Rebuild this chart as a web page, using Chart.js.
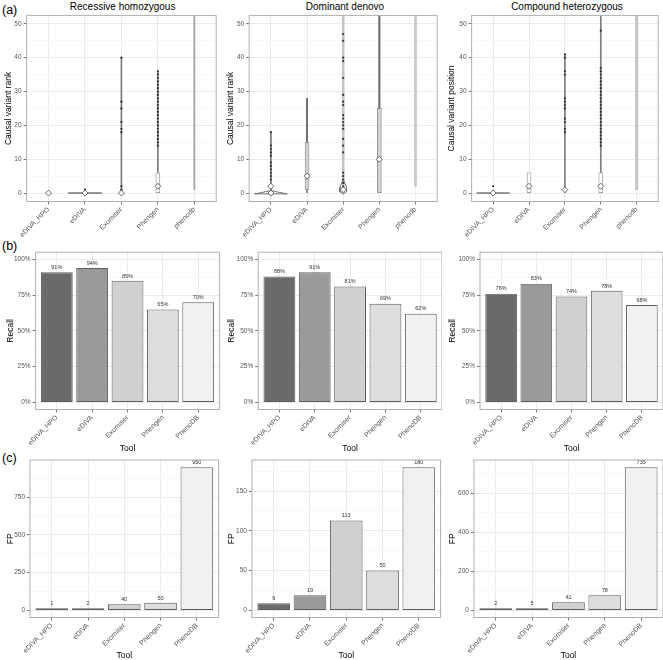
<!DOCTYPE html>
<html>
<head>
<meta charset="utf-8">
<script src="https://cdn.jsdelivr.net/npm/chart.js@4.4.1/dist/chart.umd.min.js"></script>
<style>
  body { margin: 0; background: #fff; font-family: "Liberation Sans", Arial, sans-serif; }
  #fig { position: relative; width: 663px; height: 660px; overflow: hidden; }
  #fig canvas { position: absolute; }
  .tag { position: absolute; font-size: 12.5px; line-height: 13px; color: #000; }
  .ttl { position: absolute; width: 200px; text-align: center; font-size: 10px; line-height: 10px; color: #000; }
</style>
</head>
<body>
<div id="fig">
  <div class="tag" style="left:2px;top:3.5px">(a)</div>
  <div class="tag" style="left:2px;top:240px">(b)</div>
  <div class="tag" style="left:2px;top:452px">(c)</div>
  <div class="ttl" style="left:22.6px;top:2px">Recessive homozygous</div>
  <div class="ttl" style="left:245px;top:2px">Dominant denovo</div>
  <div class="ttl" style="left:467px;top:2px">Compound heterozygous</div>
</div>
<script>
// tools
const rankTools = ['eDIVA_HPO', 'eDIVA', 'Exomiser', 'Phengen', 'phenodb'];
const barTools = ['eDIVA_HPO', 'eDIVA', 'Exomiser', 'Phengen', 'PhenoDB'];

// tick labels
const rankTicks = [0, 10, 20, 30, 40, 50];
const recallTicks = [0, 25, 50, 75, 100];
const fpTicksRH = [0, 250, 500, 750];
const fpTicksDD = [0, 50, 100, 150];
const fpTicksCH = [0, 200, 400, 600];

// (a) causal variant rank, one entry per tool
// Recessive homozygous
const rhStem = [null, null, [0, 40], [0, 36], [1, 60]];
const rhFlat = [null, [[0, 0.46]], null, null, null];
const rhWhisker = [null, null, null, null, null];
const rhBox = [null, null, null, [0, 6], null];
const rhMid = [[0], [0], [0], [2], []];
const rhOut = [[], [1], [40, 27, 25, 21, 19, 18, 2, 1],
  [36, 35, 34, 33, 32, 31, 30, 29, 28, 27, 26, 25, 24, 23, 22, 21, 20, 19, 18, 17, 16, 15, 14], []];

// Dominant denovo
const ddStem = [[0, 18], [0, 28], [0, 60], [0, 60], [2, 60]];
const ddFlat = [[[-0.25, 0.45], [0.7, 0]], null, [[-0.3, 0], [0.3, 0.09], [1.8, 0.09], [4, 0]], null, null];
const ddWhisker = [null, [15, 28], null, [25, 60], null];
const ddBox = [null, [1, 15], null, [0, 25], null];
const ddMid = [[0, 2], [5], [1], [10], []];
const ddOut = [[18, 14, 13, 12, 11, 9, 8, 7, 6, 5, 4], [],
  [47, 45, 40, 39, 34, 29, 27, 26, 23, 22, 21, 20, 19, 16, 14, 12, 6, 5, 4, 3, 2], [], []];

// Compound heterozygous
const chStem = [null, null, [0, 41], [0, 60], [1, 60]];
const chFlat = [[[0, 0.46]], null, null, null, null];
const chWhisker = [null, null, null, null, null];
const chBox = [null, [0, 6], null, [0, 6], null];
const chMid = [[0], [2], [1], [2], []];
const chOut = [[2], [], [41, 40, 36, 35, 28, 27, 26, 25, 22, 21, 19, 18],
  [48, 37, 36, 35, 34, 33, 32, 31, 30, 29, 28, 27, 26, 25, 24, 23, 22, 21, 20, 19, 18, 17, 16, 15, 14], []];

// (b) recall in %
const recallRH = [91, 94, 85, 65, 70];
const recallDD = [88, 91, 81, 69, 62];
const recallCH = [76, 83, 74, 78, 68];

// (c) false positives
const fpRH = [1, 2, 40, 50, 950];
const fpDD = [9, 19, 113, 50, 180];
const fpCH = [2, 5, 41, 78, 735];

// styles
const barFill = ['#6b6b6b', '#9a9a9a', '#d0d0d0', '#dddddd', '#f1f1f1'];
const rhStyle = { stemW: [1, 1, 1, 1, 1.2], stemC: ['#777', '#777', '#7d7d7d', '#7d7d7d', '#a8a8a8'], boxFill: ['#fff', '#fff', '#fff', '#fff', '#fff'] };
const ddStyle = { stemW: [1, 1, 2, 1.5, 2], stemC: ['#7a7a7a', '#7a7a7a', '#c4c4c4', '#c4c4c4', '#c8c8c8'], boxFill: ['#fff', '#d2d2d2', '#fff', '#d2d2d2', '#fff'] };
const chStyle = { stemW: [1, 1, 1, 1, 2.5], stemC: ['#777', '#777', '#7d7d7d', '#7d7d7d', '#c6c6c6'], boxFill: ['#fff', '#fff', '#fff', '#fff', '#fff'] };

// geometry of each row (page px)
const colX = [0, 221, 442];
const rows = {
  a: { top: 0, h: 240, areaTop: 15.4, areaBottom: 201.5, left: [26.6, 28.2, 29.6], right: [218.6, 220.2, 221], titleX: [8.8, 9.8, 9.8] },
  b: { top: 222, h: 231, areaTop: 252.2, areaBottom: 409.5, left: [35.6, 37.2, 38], right: [219.4, 221, 221], titleX: [10.5, 10.5, 10.5] },
  c: { top: 440, h: 220, areaTop: 460, areaBottom: 617.5, left: [30, 30.9, 31.9], right: [218.6, 219.6, 221], titleX: [10.3, 11, 11] }
};
const TITLE_FONT = { size: 8.5, lineHeight: 1 };

Chart.defaults.font.family = '"Liberation Sans", Arial, sans-serif';

// panel border like theme_bw
const frame = {
  id: 'frame',
  afterDraw(chart) {
    const { ctx, chartArea: a } = chart;
    ctx.save();
    ctx.strokeStyle = '#b0b0b0';
    ctx.lineWidth = 1;
    ctx.strokeRect(a.left, a.top, a.right - a.left, a.bottom - a.top);
    ctx.restore();
  }
};

// value text above the bars
const barLabels = {
  id: 'barLabels',
  afterDatasetsDraw(chart, args, opts) {
    if (!opts.text) return;
    const { ctx } = chart;
    const meta = chart.getDatasetMeta(0);
    ctx.save();
    ctx.font = '5.5px "Liberation Sans", Arial, sans-serif';
    ctx.fillStyle = '#333';
    ctx.textAlign = 'center';
    ctx.textBaseline = 'bottom';
    meta.data.forEach((el, i) => ctx.fillText(opts.text[i], el.x, el.y - 2));
    ctx.restore();
  }
};

function makeCanvas(row, col) {
  const c = document.createElement('canvas');
  c.width = 221; c.height = row.h;
  c.style.left = colX[col] + 'px';
  c.style.top = row.top + 'px';
  c.style.width = '221px';
  c.style.height = row.h + 'px';
  document.getElementById('fig').appendChild(c);
  return c;
}

function geometry(row, col) {
  const padLeft = row.titleX[col] - TITLE_FONT.size / 2;
  return {
    padding: { left: padLeft, top: row.areaTop - row.top, right: 221 - row.right[col], bottom: 0 },
    yWidth: row.left[col] - padLeft,
    xHeight: row.top + row.h - row.areaBottom
  };
}

function xScale(labels, height, title) {
  return {
    type: 'linear', min: -0.6, max: 4.6, offset: false,
    afterBuildTicks: s => { s.ticks = labels.map((_, i) => ({ value: i })); },
    afterFit: s => { s.height = height; },
    grid: { offset: false, color: '#e6e6e6', lineWidth: 0.8, tickLength: 3, tickColor: '#555' },
    border: { display: false },
    ticks: { autoSkip: false, maxRotation: 45, minRotation: 45, padding: 1, color: '#555', font: { size: 7 },
      callback: v => labels[v] },
    title: title ? { display: true, text: title, color: '#000', font: TITLE_FONT, padding: 0 } : { display: false }
  };
}

function yScale(ticks, min, max, fmt, title, width) {
  const step = ticks[1] - ticks[0];
  const minor = ticks.map(t => t + step / 2).filter(v => v < max);
  const isMinor = c => c.tick && minor.includes(c.tick.value);
  return {
    type: 'linear', min: min, max: max,
    afterBuildTicks: s => { s.ticks = ticks.concat(minor).sort((p, q) => p - q).map(v => ({ value: v })); },
    afterFit: s => { s.width = width; },
    grid: {
      color: c => isMinor(c) ? '#f3f3f3' : '#e6e6e6',
      lineWidth: c => isMinor(c) ? 0.5 : 0.8,
      tickColor: c => isMinor(c) ? 'rgba(0,0,0,0)' : '#555',
      tickLength: 3
    },
    border: { display: false },
    ticks: { autoSkip: false, padding: 2, color: '#555', font: { size: 6.5 },
      callback: v => minor.includes(v) ? '' : fmt(v) },
    title: { display: true, text: title, color: '#000', font: TITLE_FONT, padding: 0 }
  };
}

function rankPanel(col, yTitle, P, S) {
  const g = geometry(rows.a, col);
  const ds = [];
  rankTools.forEach((t, i) => {
    if (P.stem[i]) ds.push({ type: 'bar', data: [{ x: i, y: P.stem[i] }], barThickness: S.stemW[i],
      backgroundColor: S.stemC[i], borderWidth: 0, grouped: false, order: 6 });
    if (P.flat[i]) {
      const pts = P.flat[i].map(([y, w]) => ({ x: i + w, y: y }))
        .concat(P.flat[i].slice().reverse().map(([y, w]) => ({ x: i - w, y: y })));
      pts.push(pts[0]);
      ds.push({ type: 'line', data: pts, borderColor: '#6a6a6a', borderWidth: 0.9, pointRadius: 0,
        fill: false, tension: 0, order: 5 });
    }
    if (P.whisker[i]) ds.push({ type: 'bar', data: [{ x: i, y: P.whisker[i] }], barThickness: 1.2,
      backgroundColor: '#6e6e6e', borderWidth: 0, grouped: false, order: 4 });
    if (P.box[i]) ds.push({ type: 'bar', data: [{ x: i, y: P.box[i] }], barThickness: 4,
      backgroundColor: S.boxFill[i], borderColor: '#8a8a8a', borderWidth: 0.8, borderSkipped: false,
      grouped: false, order: 3 });
    ds.push({ type: 'line', data: P.out[i].map(y => ({ x: i, y: y })), showLine: false, pointRadius: 1.1,
      pointBackgroundColor: '#2e2e2e', pointBorderWidth: 0, order: 2 });
    ds.push({ type: 'line', data: P.mid[i].map(y => ({ x: i, y: y })), showLine: false, pointStyle: 'rectRot',
      pointRadius: 3, pointBackgroundColor: '#fff', pointBorderColor: '#444', pointBorderWidth: 0.8, order: 1 });
  });
  new Chart(makeCanvas(rows.a, col), {
    type: 'bar',
    data: { datasets: ds },
    options: {
      responsive: false, animation: false, devicePixelRatio: 1,
      layout: { padding: g.padding },
      plugins: { legend: { display: false }, tooltip: { enabled: false } },
      scales: {
        x: xScale(rankTools, g.xHeight, null),
        y: yScale(rankTicks, -2.5, 52.5, v => String(v), yTitle, g.yWidth)
      }
    },
    plugins: [frame]
  });
}

function barPanel(rowKey, col, vals, ticks, lo, hi, fmt, yTitle) {
  const row = rows[rowKey];
  const g = geometry(row, col);
  new Chart(makeCanvas(row, col), {
    type: 'bar',
    data: {
      datasets: [{
        data: vals.map((v, i) => ({ x: i, y: v })),
        backgroundColor: barFill, borderColor: '#5e5e5e', borderWidth: 1, borderSkipped: false,
        barPercentage: 0.9, categoryPercentage: 1, minBarLength: 2
      }]
    },
    options: {
      responsive: false, animation: false, devicePixelRatio: 1,
      layout: { padding: g.padding },
      plugins: { legend: { display: false }, tooltip: { enabled: false },
        barLabels: { text: vals.map(fmt) } },
      scales: {
        x: xScale(barTools, g.xHeight, 'Tool'),
        y: yScale(ticks, lo, hi, fmt, yTitle, g.yWidth)
      }
    },
    plugins: [frame, barLabels]
  });
}

rankPanel(0, 'Causal variant rank', { stem: rhStem, flat: rhFlat, whisker: rhWhisker, box: rhBox, mid: rhMid, out: rhOut }, rhStyle);
rankPanel(1, 'Causal variant rank', { stem: ddStem, flat: ddFlat, whisker: ddWhisker, box: ddBox, mid: ddMid, out: ddOut }, ddStyle);
rankPanel(2, 'Causal variant position', { stem: chStem, flat: chFlat, whisker: chWhisker, box: chBox, mid: chMid, out: chOut }, chStyle);

const pct = v => v + '%';
barPanel('b', 0, recallRH, recallTicks, -5, 105, pct, 'Recall');
barPanel('b', 1, recallDD, recallTicks, -5, 105, pct, 'Recall');
barPanel('b', 2, recallCH, recallTicks, -5, 105, pct, 'Recall');

const num = v => String(v);
const fpMax = a => Math.max(...a);
barPanel('c', 0, fpRH, fpTicksRH, -0.05 * fpMax(fpRH), 1.05 * fpMax(fpRH), num, 'FP');
barPanel('c', 1, fpDD, fpTicksDD, -0.05 * fpMax(fpDD), 1.05 * fpMax(fpDD), num, 'FP');
barPanel('c', 2, fpCH, fpTicksCH, -0.05 * fpMax(fpCH), 1.05 * fpMax(fpCH), num, 'FP');
</script>
</body>
</html>
